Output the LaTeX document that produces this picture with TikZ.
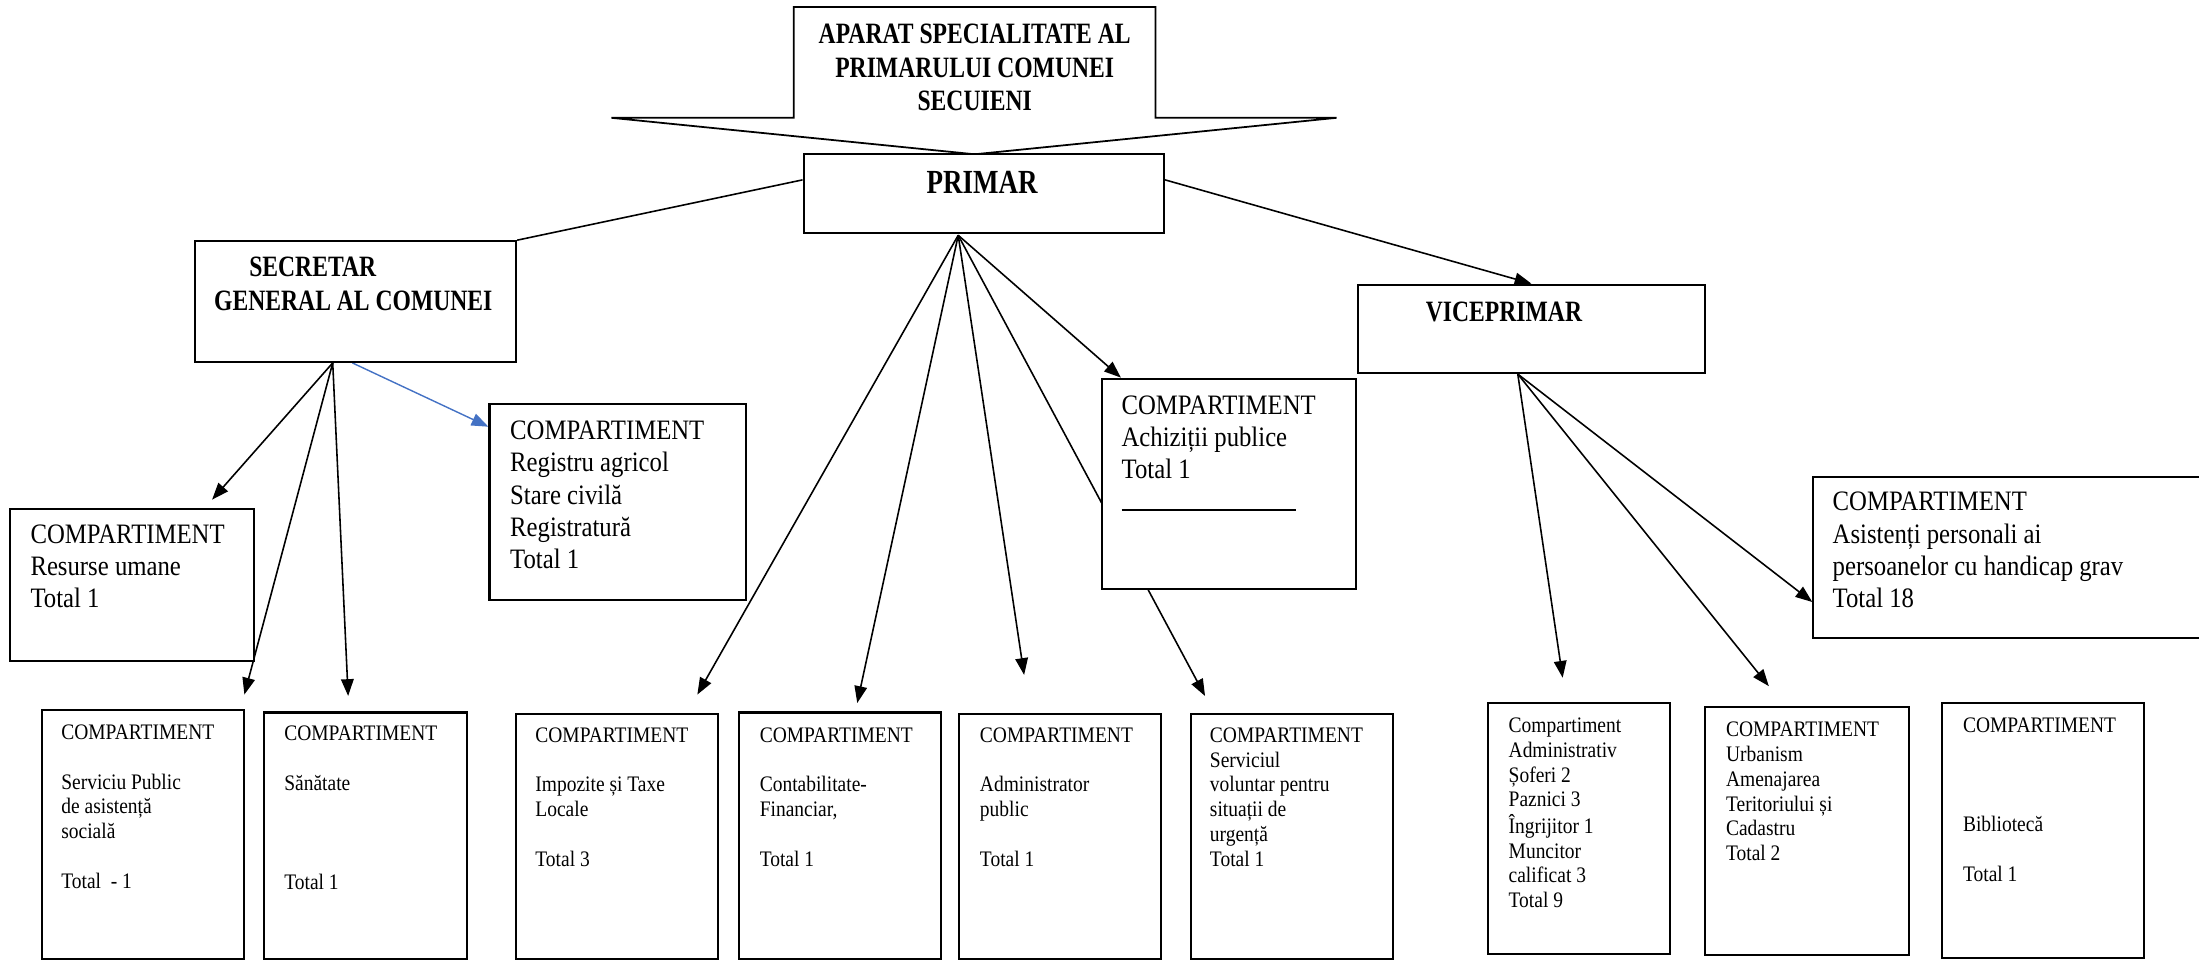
\documentclass[tikz,border=0pt]{standalone}
\usepackage{fontspec}
\setmainfont{Liberation Serif}[FakeStretch=0.88]
\newfontfamily\hdfont{Liberation Serif}[FakeStretch=0.8]
\usetikzlibrary{arrows.meta,fit,calc}
\newlength\U \setlength\U{0.0140242cm}
\definecolor{arrblue}{HTML}{4472C4}
\pgfdeclarelayer{bg}\pgfsetlayers{bg,main}
\newcommand\tl[1]{\begin{tabular}[t]{@{}l@{}}#1\end{tabular}}
\newcommand\tc[1]{\begin{tabular}[t]{@{}c@{}}#1\end{tabular}}
\newcommand\mkbox[5]{\coordinate (#1-a) at (#2,#3); \coordinate (#1-b) at (#4,#5); \node[box, fit=(#1-a)(#1-b)] (#1) {};}
\tikzset{
 box/.style={draw, line width=0.6pt, fill=white, inner sep=0pt},
 banner/.style={draw, line width=0.5pt, fill=white},
 big/.style={anchor=base west, inner sep=0pt, font=\fontsize{8}{9.2}\selectfont},
 small/.style={anchor=base west, inner sep=0pt, font=\fontsize{6.3}{7.06}\selectfont},
 head/.style={inner sep=0pt, font=\hdfont\bfseries\fontsize{8.4}{9.6}\selectfont},
 conn/.style={line width=0.45pt},
 arr/.style={conn, -{Triangle[length=1.68mm,width=1.26mm]}},
 bluearr/.style={line width=0.4pt, draw=arrblue, -{Triangle[length=1.68mm,width=1.26mm,fill=arrblue]}},
}
\begin{document}
\begin{tikzpicture}[x=\U, y=-\U]
\useasboundingbox (0,0) rectangle (1568,684.5);
% banner
\draw[banner] (566,5) -- (824,5) -- (824,84) -- (953,84) -- (695,110) -- (436,84) -- (566,84) -- cycle;
\node[head, anchor=base] (bannertext) at (695,31) {\tc{APARAT SPECIALITATE AL\\PRIMARULUI COMUNEI\\SECUIENI}};
% top boxes
\mkbox{primar}{573}{110}{830}{166}
\node[inner sep=0pt, anchor=base, font=\hdfont\bfseries\fontsize{9.6}{11}\selectfont] (primart) at ($(primar.north west)+(128,29)$) {PRIMAR};
\mkbox{sec}{139}{172}{368}{258}
\node[head, anchor=base west] (sect) at ($(sec.north west)+(14,26)$) {\tl{\hspace{25\U}SECRETAR\\GENERAL AL COMUNEI}};
\mkbox{vice}{968}{203}{1216}{266}
\node[head, anchor=base west] (vicet) at ($(vice.north west)+(49,27)$) {VICEPRIMAR};
% large boxes
\mkbox{res}{7}{363}{181}{471}
\node[big] (rest) at ($(res.north west)+(15,25)$) {\tl{COMPARTIMENT\\Resurse umane\\Total 1}};
\mkbox{reg}{349}{288}{532}{428}
\node[big] (regt) at ($(reg.north west)+(15,26)$) {\tl{COMPARTIMENT\\Registru agricol\\Stare civilă\\Registratură\\Total 1}};
\mkbox{ach}{786}{270}{967}{420}
\node[big] (acht) at ($(ach.north west)+(14,26)$) {\tl{COMPARTIMENT\\Achiziții publice\\Total 1\\\rule{124\U}{0.5pt}}};
\mkbox{asi}{1293}{340}{1585}{455}
\node[big] (asit) at ($(asi.north west)+(14,25)$) {\tl{COMPARTIMENT\\Asistenți personali ai\\persoanelor cu handicap grav\\Total 18}};
% bottom row
\mkbox{spa}{30}{506}{174}{683.5}
\node[small] (spat) at ($(spa.north west)+(14,22)$) {\tl{COMPARTIMENT\\ \\Serviciu Public\\de asistență\\socială\\ \\Total \ - 1}};
\mkbox{san}{188}{508}{333}{684}
\node[small] (sant) at ($(san.north west)+(15,21)$) {\tl{COMPARTIMENT\\ \\Sănătate\\ \\ \\ \\Total 1}};
\mkbox{imp}{368}{509}{512}{684}
\node[small] (impt) at ($(imp.north west)+(14,21)$) {\tl{COMPARTIMENT\\ \\Impozite și Taxe\\Locale\\ \\Total 3}};
\mkbox{con}{527}{508}{671}{684}
\node[small] (cont) at ($(con.north west)+(15,22)$) {\tl{COMPARTIMENT\\ \\Contabilitate-\\Financiar,\\ \\Total 1}};
\mkbox{adm}{684}{509}{828}{684}
\node[small] (admt) at ($(adm.north west)+(15,21)$) {\tl{COMPARTIMENT\\ \\Administrator\\public\\ \\Total 1}};
\mkbox{svu}{849}{509}{993}{684}
\node[small] (svut) at ($(svu.north west)+(14,21)$) {\tl{COMPARTIMENT\\Serviciul\\voluntar pentru\\situații de\\urgență\\Total 1}};
\mkbox{cad}{1061}{501}{1191}{680}
\node[small] (cadt) at ($(cad.north west)+(15,22)$) {\tl{Compartiment\\Administrativ\\Șoferi 2\\Paznici 3\\Îngrijitor 1\\Muncitor\\calificat 3\\Total 9}};
\mkbox{urb}{1216}{504}{1361}{681}
\node[small] (urbt) at ($(urb.north west)+(15,22)$) {\tl{COMPARTIMENT\\Urbanism\\Amenajarea\\Teritoriului și\\Cadastru\\Total 2}};
\mkbox{bib}{1385}{501}{1529}{683}
\node[small] (bibt) at ($(bib.north west)+(15,22)$) {\tl{COMPARTIMENT\\ \\ \\ \\Bibliotecă\\ \\Total 1}};
% connectors
\begin{pgfonlayer}{bg}
\coordinate (secapex) at ($(sec.south west)+(99,0)$);
\coordinate (primapex) at ($(primar.south west)+(111,1)$);
\coordinate (viceapex) at ($(vice.south west)+(115,0)$);
\draw[conn] ($(primar.north west)+(0,19)$) -- (sec.north east);
\draw[arr] ($(primar.north east)+(0,19)$) -- (vice.north);
\draw[arr] (secapex) -- ($(res.north west)+(145,-6)$);
\draw[arr] (secapex) -- ($(spa.north west)+(145,-10)$);
\draw[arr] (secapex) -- ($(san.north west)+(61,-11)$);
\draw[bluearr] ($(sec.south west)+(113,0)$) -- ($(reg.north west)+(0,17)$);
\draw[arr] (primapex) -- ($(imp.north west)+(130,-13)$);
\draw[arr] (primapex) -- ($(con.north west)+(85,-6)$);
\draw[arr] (primapex) -- ($(adm.north west)+(47,-27)$);
\draw[arr] (primapex) -- ($(ach.north west)+(14,0)$);
\draw[arr] (primapex) -- ($(svu.north west)+(11,-12)$);
\draw[arr] (viceapex) -- ($(cad.north west)+(54,-17)$);
\draw[arr] (viceapex) -- ($(urb.north west)+(46,-14)$);
\draw[arr] (viceapex) -- ($(asi.north west)+(0,90)$);
\end{pgfonlayer}
\end{tikzpicture}
\end{document}
